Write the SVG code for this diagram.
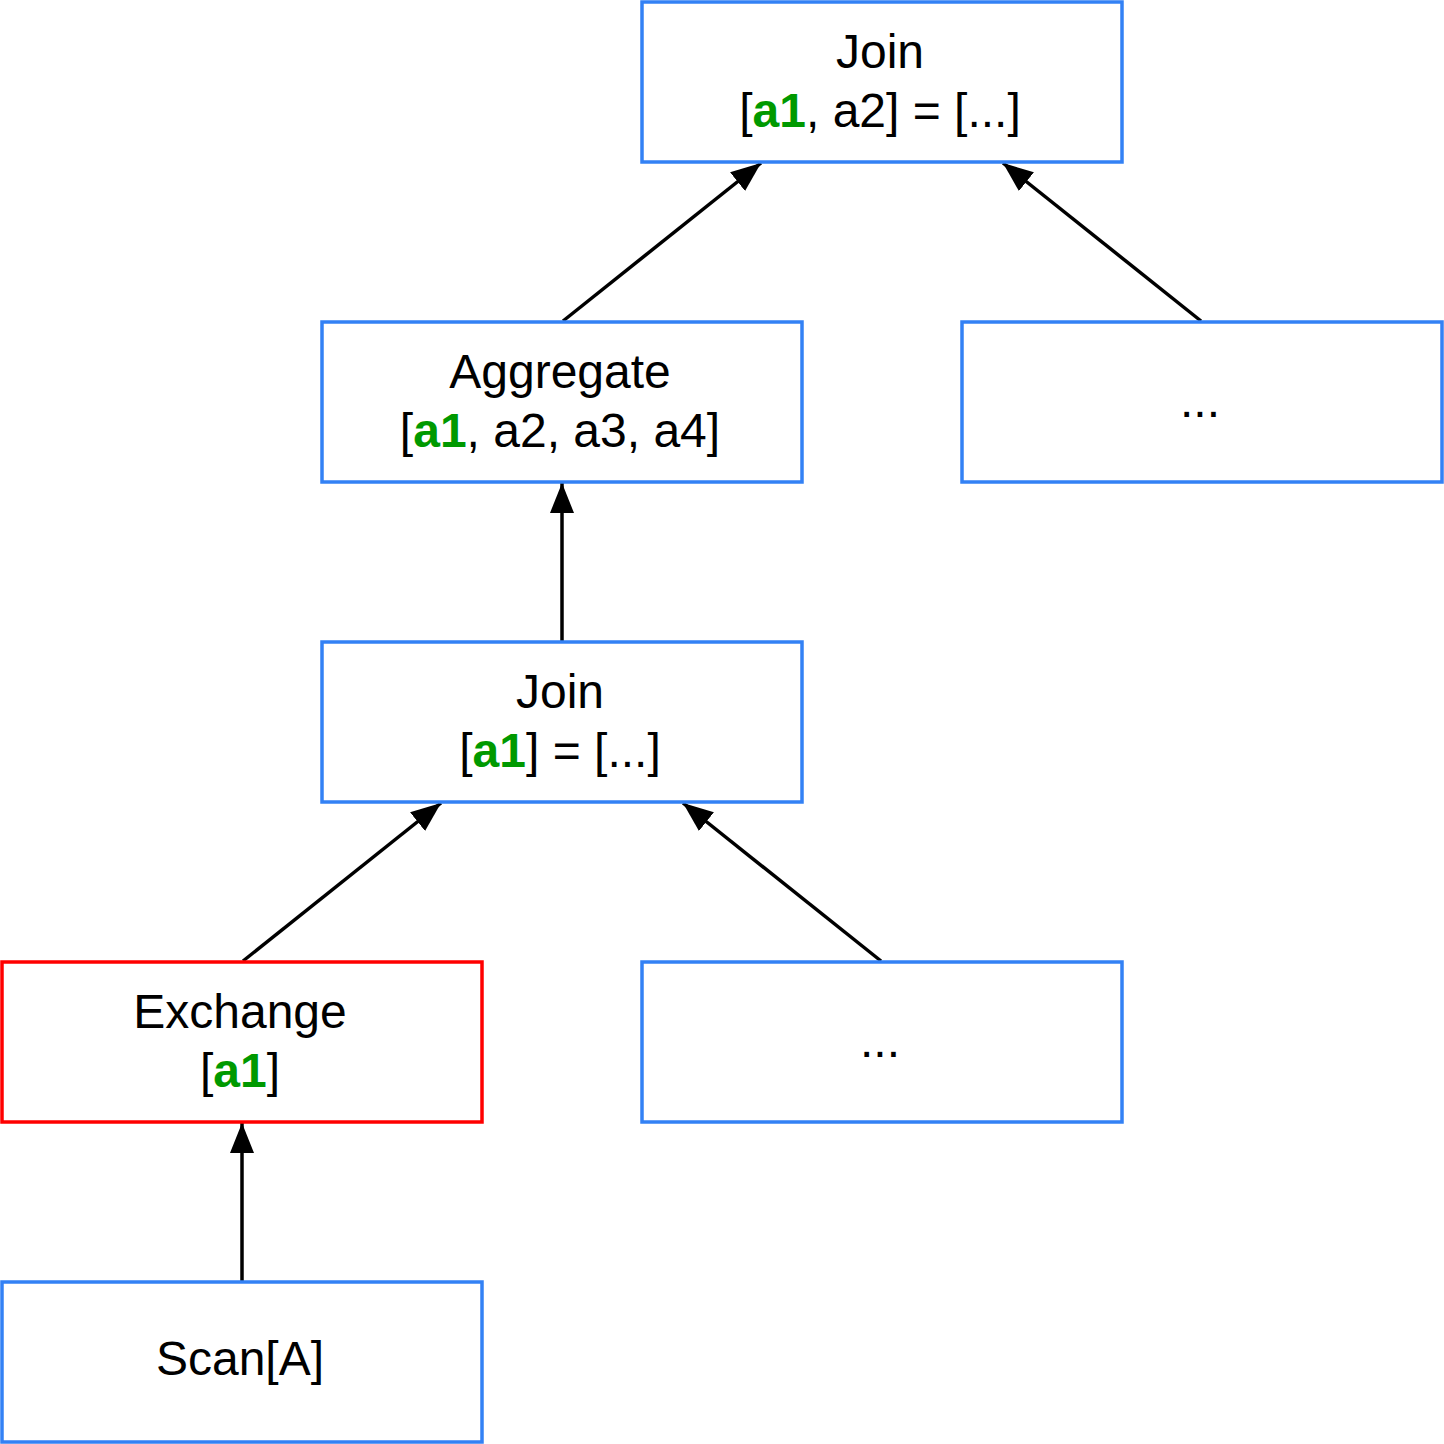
<svg xmlns="http://www.w3.org/2000/svg" width="1444" height="1444" viewBox="0 0 1444 1444">
<style>
.box{fill:#fff;stroke:#3381f5;stroke-width:3.5}
.red{fill:#fff;stroke:#ff0000;stroke-width:3.5}
text{font-family:"Liberation Sans",Arial,sans-serif;font-size:48px;fill:#000;text-anchor:middle}
.g{fill:#009900;font-weight:bold}
.edge{stroke:#000;stroke-width:3.5;fill:none;marker-end:url(#ah)}
</style>
<defs>
<marker id="ah" markerUnits="userSpaceOnUse" markerWidth="34" markerHeight="26" refX="30" refY="12" orient="auto" viewBox="0 0 34 24">
<path d="M0,0 L30,12 L0,24 Z" fill="#000"/>
</marker>
</defs>
<g id="connectors">
<line class="edge" x1="563" y1="321" x2="761" y2="163"/>
<line class="edge" x1="1201" y1="321" x2="1003" y2="163"/>
<line class="edge" x1="562" y1="641" x2="562" y2="483"/>
<line class="edge" x1="243" y1="961" x2="441" y2="803"/>
<line class="edge" x1="881" y1="961" x2="683" y2="803"/>
<line class="edge" x1="242" y1="1281" x2="242" y2="1123"/>
</g>
<g id="join-top">
<rect class="box" x="642" y="2" width="480" height="160"/>
<text x="880" y="68">Join</text>
<text x="880" y="127">[<tspan class="g">a1</tspan>, a2] = [...]</text>
</g>
<g id="aggregate">
<rect class="box" x="322" y="322" width="480" height="160"/>
<text x="560" y="388">Aggregate</text>
<text x="560" y="447">[<tspan class="g">a1</tspan>, a2, a3, a4]</text>
</g>
<g id="dots-right">
<rect class="box" x="962" y="322" width="480" height="160"/>
<text x="1200" y="417">...</text>
</g>
<g id="join-mid">
<rect class="box" x="322" y="642" width="480" height="160"/>
<text x="560" y="708">Join</text>
<text x="560" y="767">[<tspan class="g">a1</tspan>] = [...]</text>
</g>
<g id="exchange">
<rect class="red" x="2" y="962" width="480" height="160"/>
<text x="240" y="1028">Exchange</text>
<text x="240" y="1087">[<tspan class="g">a1</tspan>]</text>
</g>
<g id="dots-mid">
<rect class="box" x="642" y="962" width="480" height="160"/>
<text x="880" y="1057">...</text>
</g>
<g id="scan">
<rect class="box" x="2" y="1282" width="480" height="160"/>
<text x="240" y="1375">Scan[A]</text>
</g>
</svg>
